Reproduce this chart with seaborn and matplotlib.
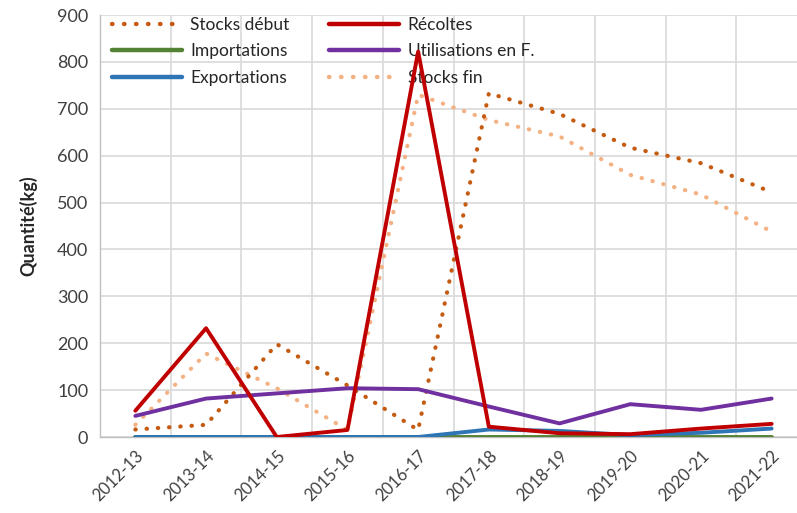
import matplotlib
matplotlib.use("Agg")
import matplotlib.pyplot as plt
import seaborn as sns
import pandas as pd
import numpy as np
from matplotlib.ticker import FixedLocator

categories = ["2012-13", "2013-14", "2014-15", "2015-16", "2016-17",
              "2017-18", "2018-19", "2019-20", "2020-21", "2021-22"]
stocks_debut = [16, 26, 198, 110, 15, 733, 689, 617, 584, 522]
recoltes = [56, 232, 0, 15, 822, 22, 8, 6, 18, 28]
importations = [0, 0, 0, 0, 0, 0, 0, 0, 0, 0]
utilisations = [45, 82, 93, 104, 102, 65, 29, 70, 58, 82]
exportations = [0, 0, 0, 0, 0, 16, 13, 4, 9, 18]
stocks_fin = [26, 178, 104, 15, 730, 676, 641, 559, 517, 438]

series = [
    ("Stocks début", stocks_debut, "#C55A11", "dot"),
    ("Récoltes", recoltes, "#C00000", "solid"),
    ("Importations", importations, "#548235", "solid"),
    ("Utilisations en F.", utilisations, "#7030A0", "solid"),
    ("Exportations", exportations, "#2E75B6", "solid"),
    ("Stocks fin", stocks_fin, "#F4B183", "dot"),
]

sns.set_style("white")
plt.rcParams['font.family'] = ['Lato', 'DejaVu Sans']

fig = plt.figure(figsize=(7.97, 5.13), dpi=100)
ax = fig.add_axes([100/797, (513-437)/513, 707/797, (437-15)/513])

x = np.arange(len(categories))
draw_order = ["Stocks fin", "Stocks début", "Importations", "Exportations", "Utilisations en F.", "Récoltes"]
for name, vals, color, style in series:
    df = pd.DataFrame({"x": x, "y": vals})
    ls = (0, (0.1, 2.6)) if style == "dot" else "-"
    z = 3 + draw_order.index(name)
    sns.lineplot(data=df, x="x", y="y", ax=ax, color=color, linewidth=3 if style == "dot" else 2.8,
                 linestyle=ls, dash_capstyle="round", solid_capstyle="round", zorder=z, label=name)

ax.set_xlim(-0.5, 9.5)
ax.set_ylim(0, 900)
ax.set_yticks(np.arange(0, 901, 100))
ax.set_xticks(x)
ax.set_xticklabels(categories, rotation=45, ha="right", rotation_mode="anchor", fontsize=12)
ax.xaxis.set_minor_locator(FixedLocator(np.arange(-0.5, 10, 1)))
ax.tick_params(axis="x", which="major", length=0, pad=8)
ax.tick_params(axis="x", which="minor", length=5, color="#BFBFBF", width=1)
ax.tick_params(axis="y", length=5, color="#BFBFBF", labelsize=13, colors="#404040", direction="out")
ax.tick_params(axis="x", labelcolor="#404040")
ax.grid(True, axis="y", which="major", color="#D9D9D9", linewidth=1.2)
ax.grid(True, axis="x", which="minor", color="#D9D9D9", linewidth=1.2)
ax.grid(False, axis="x", which="major")
for s in ["top", "right"]:
    ax.spines[s].set_visible(False)
for s in ["left", "bottom"]:
    ax.spines[s].set_color("#BFBFBF")
    ax.spines[s].set_linewidth(1)
ax.set_xlabel("")
ax.set_ylabel("Quantité(kg)", fontsize=13, fontweight="bold", labelpad=14)

h, l = ax.get_legend_handles_labels()
hmap = dict(zip(l, h))
leg_order = ["Stocks début", "Importations", "Exportations", "Récoltes", "Utilisations en F.", "Stocks fin"]
leg = ax.legend([hmap[k] for k in leg_order], leg_order, ncol=2, loc="upper left",
                bbox_to_anchor=(0.0, 1.025), frameon=False,
                fontsize=12.5, handlelength=4.0, handletextpad=0.5, columnspacing=2.3,
                labelspacing=0.62, borderaxespad=0.3)
for t in leg.get_texts():
    t.set_color("#262626")
for line in leg.get_lines():
    line.set_linewidth(3.2)

fig.savefig("out.png", dpi=100)
